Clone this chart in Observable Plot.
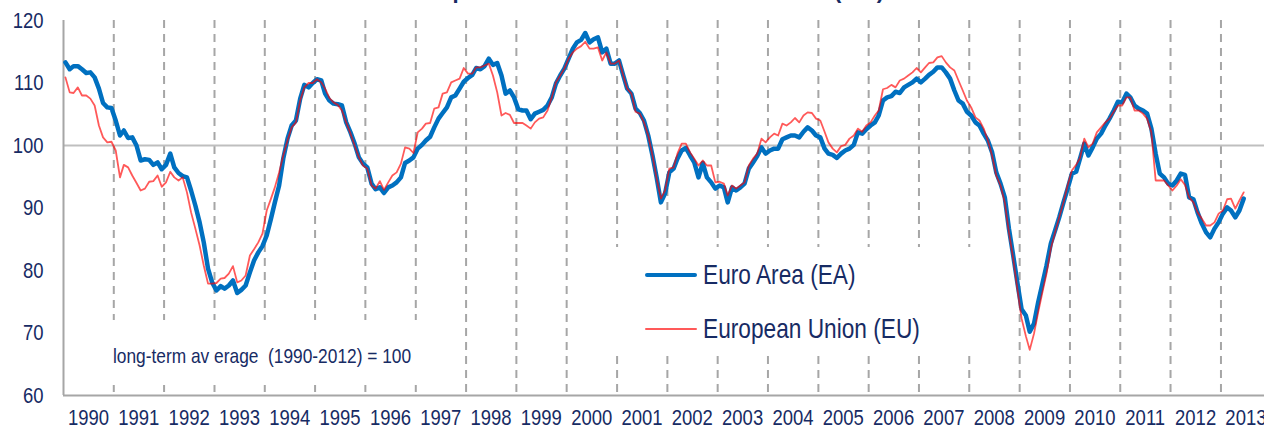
<!DOCTYPE html>
<html>
<head>
<meta charset="utf-8">
<script src="https://cdn.jsdelivr.net/npm/d3@7"></script>
<script src="https://cdn.jsdelivr.net/npm/@observablehq/plot@0.6"></script>
<style>
  html, body { margin: 0; padding: 0; background: #fff; overflow: hidden; }
  #wrap { position: relative; width: 1264px; height: 434px; overflow: hidden;
          font-family: "Liberation Sans", Arial, sans-serif; color: #172b64; }
  #title { position: absolute; right: 380px; top: -20px; font-size: 22px; font-weight: bold;
           line-height: 22px; white-space: nowrap; }
  #legend { position: absolute; left: 610px; top: 247px; width: 390px; height: 108px; background: #fff; }
  .item { position: absolute; left: 35px; height: 30px; display: flex; align-items: center;
          font-size: 28px; white-space: nowrap; }
  .item span { display: inline-block; transform: scaleX(0.81); transform-origin: left center; }
  .sw { width: 52px; margin-right: 6px; border-radius: 3px; flex: none; }
  #note { position: absolute; left: 105px; top: 320px; width: 335px; height: 65px; background: #fff; }
  #note span { position: absolute; left: 8px; top: 25px; font-size: 21px; line-height: 21px; white-space: pre;
               transform: scaleX(0.825); transform-origin: left center; }
</style>
</head>
<body>
<div id="wrap">
  <div id="chart"></div>
  <div id="title">Graph 1: Economic Sentiment Indicator (ESI)</div>
  <div id="legend"></div>
  <div id="note"><span></span></div>
</div>
<script>
// ---- data (monthly, Jan 1990 – Jun 2013) ----
const startYear = 1990;
const seriesNames = ["Euro Area (EA)", "European Union (EU)"];
const seriesColors = ["#0070c0", "#ff0000"];
const yearLabels = [1990,1991,1992,1993,1994,1995,1996,1997,1998,1999,2000,2001,2002,2003,2004,2005,2006,2007,2008,2009,2010,2011,2012,2013];
const yTicks = [60, 70, 80, 90, 100, 110, 120];
const annotation = "long-term av erage  (1990-2012) = 100";

const euroArea = [
  113.3,112.2,112.7,112.7,112.2,111.6,111.7,110.9,109.1,106.8,106.1,106.0,
  104.0,101.6,102.4,101.2,101.3,100.0,97.6,97.8,97.7,96.9,97.3,96.2,
  96.9,98.7,96.5,95.6,95.1,94.9,92.8,90.4,87.7,84.5,80.3,78.1,
  76.8,77.5,77.1,77.6,78.4,76.4,76.9,77.6,79.7,81.6,82.9,83.9,
  85.6,88.3,90.9,93.6,97.9,101.1,103.2,104.0,107.5,109.7,109.3,110.0,
  110.6,110.4,108.3,107.2,106.7,106.6,106.4,103.7,102.1,100.3,98.1,97.1,
  96.5,93.9,93.0,93.3,92.4,93.3,93.6,94.1,94.9,97.2,97.6,98.1,
  99.5,100.1,100.8,101.4,102.9,104.3,105.2,106.1,107.7,108.0,109.1,110.2,
  110.8,111.3,112.4,112.2,112.7,113.9,112.9,113.2,111.2,108.3,108.8,107.7,
  105.8,105.6,105.6,104.2,105.1,105.4,105.7,106.4,107.7,109.9,111.2,112.3,
  113.9,115.5,116.5,116.9,118.0,116.5,117.0,117.3,114.9,115.5,113.1,113.1,
  113.6,111.2,109.1,108.3,105.9,105.2,104.0,101.6,98.4,94.9,90.9,92.3,
  95.7,96.3,97.9,99.2,99.6,98.4,97.3,94.9,97.2,94.9,94.1,93.1,
  93.6,93.3,90.9,93.3,92.8,93.3,93.9,96.3,97.3,98.3,99.7,98.7,
  99.2,99.5,99.5,101.0,101.3,101.6,101.6,101.3,102.2,102.9,102.4,101.6,
  101.3,99.5,98.7,98.5,98.0,98.7,99.2,99.5,100.1,102.1,101.9,102.6,
  103.2,103.7,104.8,107.2,107.7,107.9,108.6,108.4,109.3,109.7,110.1,110.7,
  110.1,110.7,111.3,111.8,112.5,112.5,111.7,110.7,108.8,107.2,106.7,105.4,
  104.8,103.7,103.2,101.9,100.8,98.9,95.7,93.9,91.7,86.7,82.4,78.1,
  73.8,72.8,70.2,71.5,74.9,77.9,80.8,84.3,86.4,88.5,90.9,93.1,
  95.5,95.8,97.9,100.3,98.4,99.7,101.1,101.9,103.2,104.3,105.6,107.0,
  106.9,108.3,107.7,106.4,105.9,105.6,105.1,102.7,98.7,95.5,94.9,93.9,
  93.6,94.4,95.5,95.3,91.7,91.4,89.3,87.5,86.1,85.3,86.7,87.7,
  89.1,90.1,89.6,88.5,89.6,91.5
];

const europeanUnion = [
  110.9,108.5,108.4,109.3,108.0,108.0,107.5,106.4,103.2,101.3,100.5,100.6,
  99.2,94.9,96.9,96.5,95.2,94.0,92.8,93.1,94.2,94.3,95.2,93.4,
  94.1,95.8,94.9,94.4,94.9,92.5,89.3,86.7,84.0,80.8,77.9,77.9,
  78.0,78.7,78.8,79.5,80.7,78.1,78.4,79.2,82.4,83.4,84.5,85.9,
  89.6,91.5,93.3,95.7,98.4,100.8,102.9,103.7,107.2,109.3,110.0,110.0,
  110.6,110.1,109.1,107.6,106.9,106.5,105.6,103.7,101.9,100.0,98.1,96.8,
  96.3,93.6,93.1,94.3,92.9,94.1,95.2,95.7,97.1,99.7,99.5,98.8,
  102.1,102.7,103.5,103.6,105.9,106.1,108.3,108.5,110.1,110.4,110.7,112.4,
  111.5,111.5,112.5,112.5,112.8,113.1,111.2,108.5,104.8,105.2,104.9,103.6,
  103.6,103.6,103.2,102.7,103.7,104.3,104.5,105.6,107.7,110.1,111.2,112.3,
  113.9,114.9,115.5,115.9,116.6,115.5,115.5,115.7,113.6,114.9,113.1,113.1,
  113.6,111.2,109.1,108.3,105.4,105.1,103.7,101.6,98.4,94.7,91.5,92.8,
  96.3,96.5,98.7,100.3,100.3,98.9,97.9,96.8,97.6,96.8,96.8,94.1,
  94.2,93.9,92.0,93.6,93.1,93.6,94.1,96.8,97.9,98.7,101.1,100.5,
  101.3,101.9,101.6,103.5,103.2,103.7,104.4,103.7,104.8,105.3,105.2,104.3,
  104.0,102.2,100.5,99.5,98.9,99.9,100.1,101.1,101.6,102.7,102.2,103.2,
  103.7,104.8,105.6,109.0,109.2,109.7,109.3,110.4,110.7,111.2,111.7,112.4,
  111.7,112.5,113.2,113.3,114.1,114.3,113.3,112.5,112.0,110.4,108.8,107.2,
  106.1,104.5,104.0,102.7,100.8,98.4,95.2,93.6,90.9,86.1,81.9,77.1,
  72.3,69.5,67.3,69.9,73.3,76.5,79.5,83.5,86.1,88.5,90.9,93.6,
  96.0,96.9,98.0,101.1,99.7,100.3,102.1,102.9,103.7,104.3,105.4,106.4,
  106.4,107.7,107.7,105.6,105.6,105.1,104.3,102.1,94.4,94.4,94.4,93.6,
  92.8,93.6,94.6,93.7,91.7,90.9,89.3,88.3,87.2,87.2,87.7,89.1,
  89.6,91.4,91.5,89.9,91.2,92.5
];

// ---- build table ----
const monthDate = i => new Date(Date.UTC(startYear, i, 15));
const rows = [
  ...euroArea.map((v, i) => ({date: monthDate(i), value: v, series: seriesNames[0]})),
  ...europeanUnion.map((v, i) => ({date: monthDate(i), value: v, series: seriesNames[1]}))
];
const eaRows = rows.filter(d => d.series === seriesNames[0]);
const euRows = rows.filter(d => d.series === seriesNames[1]);
const yearStarts = yearLabels.slice(1).map(y => new Date(Date.UTC(y, 0, 1)));
const yearMids = yearLabels.map(y => new Date(Date.UTC(y, 6, 1)));
const x0 = new Date(Date.UTC(1990, 0, 1));
const x1 = new Date(Date.UTC(2013, 10, 13));

const gray = "#a6a6a6";
const chart = Plot.plot({
  width: 1264,
  height: 434,
  marginTop: 20,
  marginBottom: 39,
  marginLeft: 63,
  marginRight: 0,
  style: {fontFamily: '"Liberation Sans", Arial, sans-serif', fontSize: "22px", color: "#172b64", background: "transparent"},
  x: {type: "utc", domain: [x0, x1]},
  y: {domain: [60, 120]},
  marks: [
    Plot.ruleX(yearStarts, {stroke: gray, strokeWidth: 2, strokeDasharray: "8,6"}),
    Plot.ruleY([100], {stroke: "#bfbfbf", strokeWidth: 2}),
    Plot.ruleX([x0], {stroke: gray, strokeWidth: 2}),
    Plot.ruleY([60], {stroke: gray, strokeWidth: 2}),
    Plot.lineY(eaRows, {x: "date", y: "value", stroke: seriesColors[0], strokeWidth: 4.5, strokeLinejoin: "round"}),
    Plot.lineY(euRows, {x: "date", y: "value", stroke: seriesColors[1], strokeOpacity: 0.65, strokeWidth: 1.8, strokeLinejoin: "round"}),
    Plot.axisY({ticks: yTicks, tickSize: 0, tickPadding: 20, label: null}),
    Plot.axisX({ticks: yearMids, tickFormat: d => String(d.getUTCFullYear()), tickSize: 0, tickPadding: 14, label: null})
  ]
});
document.getElementById("chart").appendChild(chart);

// condense the tick labels horizontally (the reference uses a narrow face)
chart.querySelectorAll('g[aria-label$="tick label"] text').forEach(t => {
  const len = t.getComputedTextLength();
  if (len > 0) {
    t.setAttribute("lengthAdjust", "spacingAndGlyphs");
    t.setAttribute("textLength", (len * 0.84).toFixed(2));
  }
});

// ---- legend ----
const legend = document.getElementById("legend");
const legendSpecs = [
  {name: seriesNames[0], color: seriesColors[0], w: 4.5, opacity: 1, top: 13},
  {name: seriesNames[1], color: seriesColors[1], w: 2, opacity: 0.65, top: 67}
];
legendSpecs.forEach(s => {
  const item = document.createElement("div");
  item.className = "item";
  item.style.top = s.top + "px";
  const sw = document.createElement("div");
  sw.className = "sw";
  sw.style.height = s.w + "px";
  sw.style.background = s.color;
  sw.style.opacity = s.opacity;
  const label = document.createElement("span");
  label.textContent = s.name;
  item.appendChild(sw);
  item.appendChild(label);
  legend.appendChild(item);
});
document.querySelector("#note span").textContent = annotation;
</script>
</body>
</html>
